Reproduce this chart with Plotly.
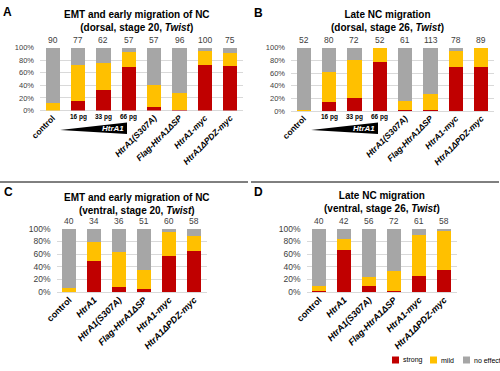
import plotly.graph_objects as go

W, H = 500, 371
FONT = "Liberation Sans, Arial, sans-serif"
RED, YEL, GRY = "#C00000", "#FFC000", "#A6A6A6"

# ---------------- data ----------------
cats_AB = ["control", "16 pg", "33 pg", "66 pg", "HtrA1(S307A)", "Flag-HtrA1ΔSP", "HtrA1-myc", "HtrA1ΔPDZ-myc"]
ticks_AB = ["<b>control</b>", "", "", "", "<b><i>HtrA1(S307A)</i></b>", "<b><i>Flag-HtrA1ΔSP</i></b>",
            "<b><i>HtrA1-myc</i></b>", "<b><i>HtrA1ΔPDZ-myc</i></b>"]
dose_labels = ["16 pg", "33 pg", "66 pg"]

A_strong = [0, 15, 32, 69, 6, 1, 72, 71]
A_mild = [12, 57, 43, 24, 34, 27, 23, 21]
A_n = [90, 77, 62, 57, 57, 96, 100, 75]

B_strong = [0, 14, 20, 77, 2, 1, 69, 70]
B_mild = [2, 48, 60, 23, 14, 26, 26, 30]
B_n = [52, 80, 72, 52, 61, 113, 78, 89]

cats_CD = ["control", "HtrA1", "HtrA1(S307A)", "Flag-HtrA1ΔSP", "HtrA1-myc", "HtrA1ΔPDZ-myc"]
ticks_CD = ["<b>control</b>", "<b><i>HtrA1</i></b>", "<b><i>HtrA1(S307A)</i></b>", "<b><i>Flag-HtrA1ΔSP</i></b>",
            "<b><i>HtrA1-myc</i></b>", "<b><i>HtrA1ΔPDZ-myc</i></b>"]

C_strong = [0, 49, 8, 5, 57, 65]
C_mild = [7, 30, 55, 30, 38, 24]
C_n = [40, 34, 36, 51, 60, 58]

D_strong = [1, 66, 10, 1, 26, 35]
D_mild = [9, 18, 14, 32, 64, 63]
D_n = [40, 42, 56, 72, 61, 58]

series_names = ["strong", "mild", "no effect"]
yticks = [0, 20, 40, 60, 80, 100]
ytick_labels = ["0%", "20%", "40%", "60%", "80%", "100%"]

titles = [
    "<b>EMT and early migration of NC<br>(dorsal, stage 20, <i>Twist</i>)</b>",
    "<b>Late NC migration<br>(dorsal, stage 26, <i>Twist</i>)</b>",
    "<b>EMT and early migration of NC<br>(ventral, stage 20, <i>Twist</i>)</b>",
    "<b>Late NC migration<br>(ventral, stage 26, <i>Twist</i>)</b>",
]
letters = ["A", "B", "C", "D"]

# ---------------- layout helpers ----------------
def px(x):
    return x / W

def py(y):
    return 1 - y / H

panels = [
    dict(cats=cats_AB, ticks=ticks_AB, s=A_strong, m=A_mild, n=A_n, x=(40, 243), y=(47.7, 110.5),
         tfs=7.5, cfs=8.5, nfs=8.5, title_xy=(137, 21), letter_xy=(7, 12)),
    dict(cats=cats_AB, ticks=ticks_AB, s=B_strong, m=B_mild, n=B_n, x=(291, 494), y=(47.7, 111),
         tfs=7.5, cfs=8.5, nfs=8.5, title_xy=(387, 21), letter_xy=(258, 13)),
    dict(cats=cats_CD, ticks=ticks_CD, s=C_strong, m=C_mild, n=C_n, x=(56.5, 206.5), y=(228.7, 292),
         tfs=8.5, cfs=9, nfs=8.5, title_xy=(137, 204), letter_xy=(8, 192)),
    dict(cats=cats_CD, ticks=ticks_CD, s=D_strong, m=D_mild, n=D_n, x=(306.5, 456.5), y=(228.7, 292),
         tfs=8.5, cfs=9, nfs=8.5, title_xy=(382, 202), letter_xy=(258, 192)),
]

fig = go.Figure()
annotations = []
shapes = []

for i, p in enumerate(panels):
    k = "" if i == 0 else str(i + 1)
    xa, ya = "x" + k, "y" + k
    none = [100 - a - b for a, b in zip(p["s"], p["m"])]
    for vals, col, name in zip([p["s"], p["m"], none], [RED, YEL, GRY], series_names):
        fig.add_trace(go.Bar(x=p["cats"], y=vals, name=name, marker=dict(color=col, line=dict(width=0)),
                             xaxis=xa, yaxis=ya, showlegend=False, hoverinfo="skip"))
    fig.update_layout(**{
        "xaxis" + k: dict(domain=[px(p["x"][0]), px(p["x"][1])], anchor=ya, type="category",
                          tickvals=p["cats"], ticktext=p["ticks"], tickangle=-45,
                          tickfont=dict(family=FONT, size=p["cfs"], color="#000000"),
                          showgrid=False, showline=False, ticks="", zeroline=False, automargin=False),
        "yaxis" + k: dict(domain=[py(p["y"][1]), py(p["y"][0])], anchor=xa, range=[0, 100],
                          tickvals=yticks, ticktext=ytick_labels, showgrid=True, gridcolor="#D9D9D9",
                          gridwidth=1, zeroline=True, zerolinecolor="#D9D9D9", zerolinewidth=1,
                          ticks="", ticklabelstandoff=5, automargin=False,
                          tickfont=dict(family=FONT, size=p["tfs"], color="#404040")),
    })
    for c, nv in zip(p["cats"], p["n"]):
        annotations.append(dict(x=c, y=100, xref=xa, yref=ya, text=str(nv), showarrow=False,
                                yanchor="bottom", yshift=1,
                                font=dict(family=FONT, size=p["nfs"], color="#404040")))
    annotations.append(dict(x=px(p["title_xy"][0]), y=py(p["title_xy"][1]), xref="paper", yref="paper",
                            text=titles[i], showarrow=False, xanchor="center", yanchor="middle",
                            font=dict(family=FONT, size=10, color="#000000")))
    annotations.append(dict(x=px(p["letter_xy"][0]), y=py(p["letter_xy"][1]), xref="paper", yref="paper",
                            text="<b>" + letters[i] + "</b>", showarrow=False, xanchor="center",
                            yanchor="middle", font=dict(family=FONT, size=12, color="#000000")))

# dose labels under panel A and B bars
for ax in ["x", "x2"]:
    for d in dose_labels:
        annotations.append(dict(x=d, y=py(117), xref=ax, yref="paper", text="<b>" + d + "</b>",
                                showarrow=False, xanchor="center", yanchor="middle",
                                font=dict(family=FONT, size=6.5, color="#000000")))

# black dose triangles with HtrA1 label
for x0, x1, tx in [(60, 127, 113), (311, 378, 364)]:
    shapes.append(dict(type="path", xref="paper", yref="paper",
                       path=f"M {px(x0)} {py(130)} L {px(x1)} {py(122.5)} L {px(x1)} {py(134)} Z",
                       fillcolor="#000000", line=dict(width=0)))
    annotations.append(dict(x=px(tx), y=py(128.5), xref="paper", yref="paper",
                            text="<b><i>HtrA1</i></b>", showarrow=False, xanchor="center", yanchor="middle",
                            font=dict(family=FONT, size=8, color="#FFFFFF")))

# separator lines
shapes.append(dict(type="line", xref="paper", yref="paper", x0=px(0), x1=px(248), y0=py(182), y1=py(182),
                   line=dict(color="#000000", width=1)))
shapes.append(dict(type="line", xref="paper", yref="paper", x0=px(251), x1=px(499), y0=py(182), y1=py(182),
                   line=dict(color="#000000", width=1)))

# manual legend
for (sx, tx), col, name in zip([(392, 401), (430, 439), (463, 472)], [RED, YEL, GRY], series_names):
    shapes.append(dict(type="rect", xref="paper", yref="paper", x0=px(sx), x1=px(sx + 7),
                       y0=py(363.5), y1=py(356.5), fillcolor=col, line=dict(width=0)))
    annotations.append(dict(x=px(tx), y=py(360), xref="paper", yref="paper", text=name, showarrow=False,
                            xanchor="left", yanchor="middle",
                            font=dict(family=FONT, size=7, color="#000000")))

fig.update_layout(width=W, height=H, margin=dict(l=0, r=0, t=0, b=0), barmode="stack", bargap=0.44,
                  plot_bgcolor="#FFFFFF", paper_bgcolor="#FFFFFF", showlegend=False,
                  annotations=annotations, shapes=shapes, font=dict(family=FONT))

fig.write_html("out.html", config={"displayModeBar": False},
               post_script="document.body.style.margin='0';document.body.style.overflow='hidden';")
